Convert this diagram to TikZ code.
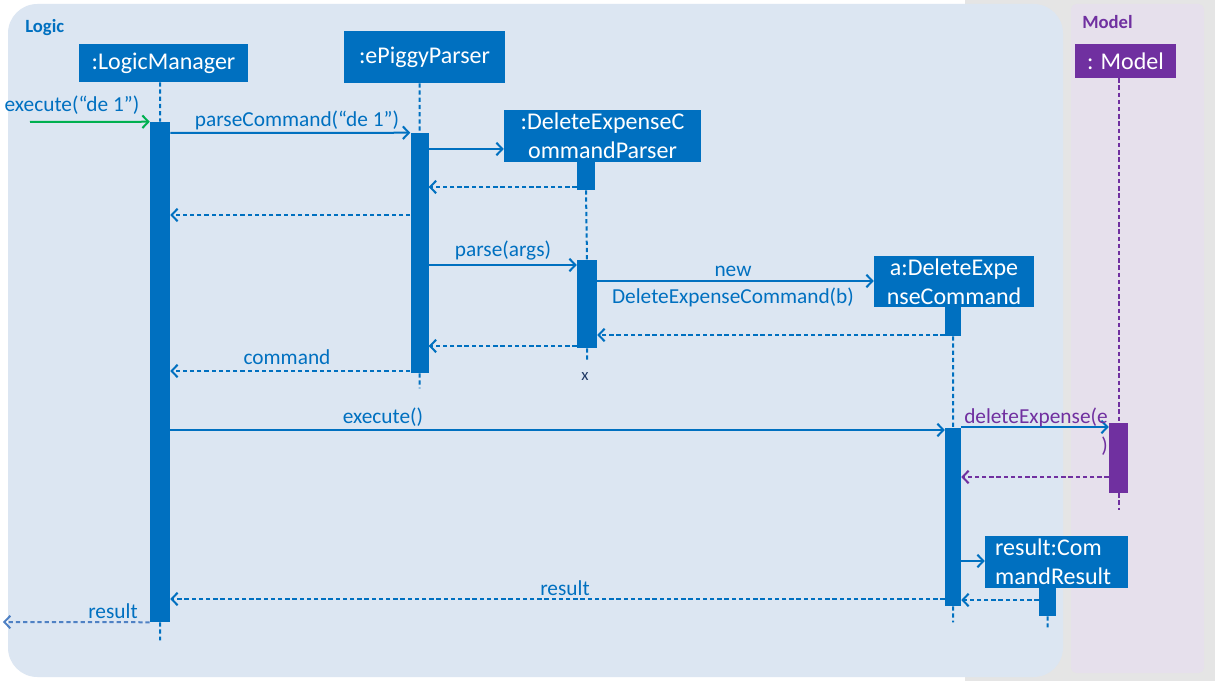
\documentclass[tikz,border=0pt]{standalone}
\usepackage{fontspec}
\setmainfont{Carlito}
\usetikzlibrary{arrows.meta}
\definecolor{lblue}{HTML}{0070C0}
\definecolor{mpurple}{HTML}{7030A0}
\definecolor{mgreen}{HTML}{00B050}
\definecolor{logicbg}{HTML}{DCE6F2}
\definecolor{modelbg}{HTML}{E6E0EC}
\definecolor{bggrey}{HTML}{E5E5E5}
\definecolor{outblue}{HTML}{4F81C4}
\definecolor{xcol}{HTML}{1F3864}
\newcommand\hdfont{\fontsize{18}{21.75}\selectfont}
\newcommand\lblfont{\fontsize{16}{21.75}\selectfont}
\begin{document}
\begin{tikzpicture}[x=0.75pt,y=-0.75pt,
  obj/.style={fill=lblue,text=white,font=\hdfont,inner sep=0pt,align=center},
  act/.style={fill=lblue,inner sep=0pt},
  lbl/.style={text=lblue,font=\lblfont,inner sep=0pt},
  msg/.style={draw=lblue,line width=1.5pt,-{Straight Barb[length=4.5pt,width=9.5pt]}},
  ret/.style={msg,dash pattern=on 3.2pt off 2.2pt},
  life/.style={draw=lblue,line width=1.5pt,dash pattern=on 3.2pt off 2.2pt}]
\useasboundingbox (0,0) rectangle (1215,681);
\fill[white] (0,0) rectangle (965,681);
\fill[bggrey] (965,0) rectangle (1215,681);
\fill[logicbg,rounded corners=22pt] (8,4) rectangle (1063,677);
\fill[modelbg,rounded corners=4pt] (1071,4) rectangle (1204,673);
\node (logicT) at (25,28) [anchor=west,text=lblue,font=\fontsize{14}{15}\selectfont\bfseries,inner sep=0pt] {Logic};
\node (modelT) at (1082,22) [anchor=west,text=mpurple,font=\fontsize{14}{15}\selectfont\bfseries,inner sep=0pt] {Model};

\node (lmH) at (163.5,63) [obj,minimum width=126.75pt,minimum height=28.5pt] {:LogicManager};
\node (epH) at (424.5,57) [obj,minimum width=120.75pt,minimum height=39pt] {:ePiggyParser};
\node (dpH) at (602.5,136) [obj,minimum width=147.75pt,minimum height=39pt] {:DeleteExpenseC\\ommandParser};
\node (daH) at (954,281.5) [obj,minimum width=120pt,minimum height=38.25pt] {a:DeleteExpe\\nseCommand};
\node (mdH) at (1125.5,61) [obj,fill=mpurple,minimum width=75.75pt,minimum height=25.5pt] {: Model};
\node (rsH) at (1056.5,562) [obj,minimum width=107.25pt,minimum height=39pt,text width=92pt,align=left] {result:Com\\mandResult};

\node (lmA) at (160,372) [act,minimum width=15pt,minimum height=375pt] {};
\node (epA) at (419.5,253) [act,minimum width=13.5pt,minimum height=180pt] {};
\node (dpA1) at (586,176) [act,minimum width=13.5pt,minimum height=21pt] {};
\node (dpA2) at (587,304) [act,minimum width=15pt,minimum height=66pt] {};
\node (daA1) at (953,321.5) [act,minimum width=12pt,minimum height=21.75pt] {};
\node (daA2) at (953,517) [act,minimum width=12pt,minimum height=133.5pt] {};
\node (mdA) at (1118.5,458) [act,fill=mpurple,minimum width=14.25pt,minimum height=52.5pt] {};
\node (rsA) at (1047.5,602) [act,minimum width=12.75pt,minimum height=21pt] {};
\node (xEnd) at (585,377) [text=xcol,font=\fontsize{12.5}{13}\selectfont,inner sep=0pt] {x};

\draw[life]
(lmA.north |- lmH.south) to (lmA.north)
(lmA.south) to ++(0,18)
(epA.north |- epH.south) to (epA.north)
(epA.south) to ++(0,15)
(dpA1.south) to (dpA2.north)
(dpA2.south) to ++(0,14)
(daA1.south) to (daA2.north)
(daA2.south) to ++(0,16)
(rsA.south) to ++(0,11);
\draw[life,draw=mpurple]
(mdA.north |- mdH.south) to (mdA.north)
(mdA.south) to ++(0,17);

\coordinate (extIn) at (30,122);
\coordinate (extOut) at (3,622);
\draw[msg,draw=mgreen] (extIn) to (lmA.north west);
\draw[msg] (lmA.east |- 0,133) to (epA.north west);
\draw[msg] (epA.east |- 0,149) to (dpH.west |- 0,149);
\draw[ret] (dpA1.west |- 0,187) to (epA.east |- 0,187);
\draw[ret] (epA.west |- 0,215) to (lmA.east |- 0,215);
\draw[msg] (epA.east |- 0,265) to (dpA2.west |- 0,265);
\draw[msg] (dpA2.east |- 0,281) to (daH.west |- 0,281);
\draw[ret] (daA1.west |- 0,335) to (dpA2.east |- 0,335);
\draw[ret] (dpA2.west |- 0,346) to (epA.east |- 0,346);
\draw[ret] (epA.west |- 0,371) to (lmA.east |- 0,371);
\draw[msg] (lmA.east |- 0,430) to (daA2.west |- 0,430);
\draw[msg] (daA2.east |- 0,427) to (mdA.west |- 0,427);
\draw[ret,draw=mpurple] (mdA.west |- 0,477) to (daA2.east |- 0,477);
\draw[msg] (daA2.east |- 0,561) to (rsH.west |- 0,561);
\draw[ret] (rsA.west |- 0,600) to (daA2.east |- 0,600);
\draw[ret] (daA2.west |- 0,599) to (lmA.east |- 0,599);
\draw[ret,draw=outblue] (lmA.south west) to (extOut);

\node (lExec) at (72,105) [lbl] {execute(“de 1”)};
\node (lParseCmd) at (297,120) [lbl] {parseCommand(“de 1”)};
\node (lParse) at (503,251) [lbl] {parse(args)};
\node (lNew) at (733,271) [lbl] {new};
\node (lNewCmd) at (733,297) [lbl] {DeleteExpenseCommand(b)};
\node (lCmd) at (287,357) [lbl] {command};
\node (lExec2) at (383,417) [lbl] {execute()};
\node (lDel) at (1108,432) [lbl,text=mpurple,align=right,anchor=east] {deleteExpense(e\\)};
\node (lRes) at (565,588) [lbl] {result};
\node (lRes2) at (113,611) [lbl] {result};
\end{tikzpicture}
\end{document}
